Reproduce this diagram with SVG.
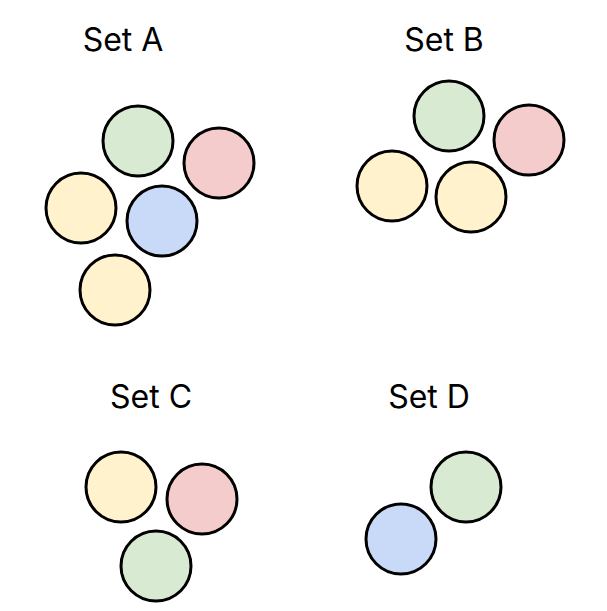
<svg xmlns="http://www.w3.org/2000/svg" width="607" height="611" viewBox="0 0 607 611">
<style>
circle{stroke:#000;stroke-width:3}
.g{fill:#d9ead3}.r{fill:#f4cccc}.y{fill:#fff2cc}.b{fill:#c9daf8}
text{font-family:Inter,"Open Sans",sans-serif;font-size:32px;text-anchor:middle;fill:#000}
</style>
<rect width="607" height="611" fill="#fff"/>
<g id="setA">
<text x="123" y="51">Set A</text>
<circle class="g" cx="138" cy="141" r="35"/>
<circle class="r" cx="219" cy="163" r="35"/>
<circle class="y" cx="81" cy="208" r="35"/>
<circle class="b" cx="162" cy="221" r="35"/>
<circle class="y" cx="115" cy="290" r="35"/>
</g>
<g id="setB">
<text x="444" y="51">Set B</text>
<circle class="g" cx="449" cy="116" r="35"/>
<circle class="r" cx="529" cy="140" r="35"/>
<circle class="y" cx="392" cy="186" r="35"/>
<circle class="y" cx="471" cy="197" r="35"/>
</g>
<g id="setC">
<text x="151" y="408">Set C</text>
<circle class="y" cx="121" cy="487" r="35"/>
<circle class="r" cx="202" cy="499" r="35"/>
<circle class="g" cx="156" cy="566" r="35"/>
</g>
<g id="setD">
<text x="429" y="408">Set D</text>
<circle class="g" cx="466" cy="487" r="35"/>
<circle class="b" cx="401" cy="539" r="35"/>
</g>
<g id="connectors"/>
</svg>
